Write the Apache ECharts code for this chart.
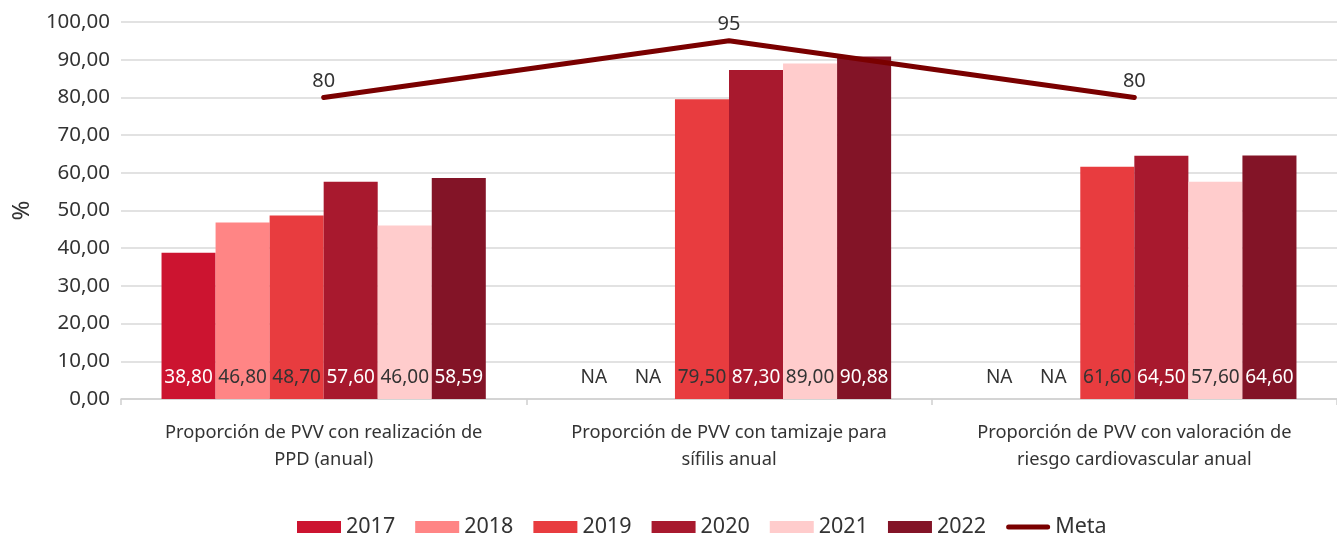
<!DOCTYPE html>
<html>
<head>
<meta charset="utf-8">
<script src="https://cdn.jsdelivr.net/npm/echarts@6/dist/echarts.min.js"></script>
<style>
  html, body { margin: 0; padding: 0; background: #fff; }
  #chart { width: 1337px; height: 535px; }
</style>
</head>
<body>
<div id="chart"></div>
<script>
// Indicadores de atención a PVV, 2017–2022, con la meta por indicador
const categories = [
  'Proporción de PVV con realización de\nPPD (anual)',
  'Proporción de PVV con tamizaje para\nsífilis anual',
  'Proporción de PVV con valoración de\nriesgo cardiovascular anual'
];
const years = ['2017', '2018', '2019', '2020', '2021', '2022'];
// null = dato no disponible (NA)
const v2017 = [38.80, null, null];
const v2018 = [46.80, null, null];
const v2019 = [48.70, 79.50, 61.60];
const v2020 = [57.60, 87.30, 64.50];
const v2021 = [46.00, 89.00, 57.60];
const v2022 = [58.59, 90.88, 64.60];
const meta = [80, 95, 80];
const yTicks = [0, 10, 20, 30, 40, 50, 60, 70, 80, 90, 100];

const yearValues = [v2017, v2018, v2019, v2020, v2021, v2022];
const barColors = ['#CC1430', '#FF8585', '#E83C3F', '#A8192E', '#FFCCCC', '#831427'];
const labelColors = ['#ffffff', '#333333', '#333333', '#ffffff', '#333333', '#ffffff'];
const META_COLOR = '#7A0000';
const FONT = 'Noto Sans';

const fmt = v => v.toFixed(2).replace('.', ',');

const barSeries = years.map((y, i) => ({
  name: y,
  type: 'bar',
  barGap: '0%',
  barCategoryGap: '20%',
  itemStyle: { color: barColors[i] },
  label: {
    show: true,
    position: 'insideBottom',
    distance: 12,
    fontFamily: FONT,
    fontSize: 19,
    color: labelColors[i],
    formatter: p => fmt(p.value)
  },
  data: yearValues[i].map(v => v === null
    ? { value: 0, label: { formatter: 'NA', color: '#333333' } }
    : v)
}));

// legend icon for the target line: thick bar with rounded ends
const lineIcon = 'path://M2.5,0 L41.5,0 A2.5,2.5 0 0 1 41.5,5 L2.5,5 A2.5,2.5 0 0 1 2.5,0 Z';

const chart = echarts.init(document.getElementById('chart'));
chart.setOption({
  animation: false,
  textStyle: { fontFamily: FONT },
  grid: {
    left: 121, right: 0, top: 22, bottom: 136,
    containLabel: false,
    outerBoundsMode: 'none'
  },
  legend: {
    top: 511,
    left: 292,
    itemWidth: 44,
    itemHeight: 12,
    itemGap: 20,
    textStyle: { fontFamily: FONT, fontSize: 21.5, color: '#333' },
    data: years.map(y => ({ name: y, icon: 'rect' })).concat([{
      name: 'Meta',
      icon: lineIcon,
      itemStyle: { color: META_COLOR }
    }])
  },
  xAxis: {
    type: 'category',
    data: categories,
    axisLine: { lineStyle: { color: '#d0d0d0', width: 1.5 } },
    axisTick: { show: true, length: 6, lineStyle: { color: '#d0d0d0', width: 1.5 } },
    axisLabel: {
      interval: 0,
      fontFamily: FONT, fontSize: 18.3, color: '#333', lineHeight: 27, margin: 20
    }
  },
  yAxis: {
    type: 'value',
    min: yTicks[0],
    max: yTicks[yTicks.length - 1],
    interval: yTicks[1] - yTicks[0],
    name: '%',
    nameLocation: 'middle',
    nameGap: 87,
    nameRotate: 90,
    nameTextStyle: { fontFamily: FONT, fontSize: 24, color: '#333' },
    axisLabel: {
      fontFamily: FONT, fontSize: 20.5, color: '#333', margin: 11,
      formatter: v => fmt(v)
    },
    splitLine: { lineStyle: { color: '#d9d9d9', width: 1.5 } },
    axisLine: { show: false },
    axisTick: { show: false }
  },
  series: barSeries.concat([{
    name: 'Meta',
    type: 'line',
    data: meta,
    z: 5,
    symbol: 'circle',
    symbolSize: 1,
    itemStyle: { color: META_COLOR },
    lineStyle: { color: META_COLOR, width: 5, cap: 'round' },
    label: {
      show: true,
      position: 'top',
      distance: 6,
      fontFamily: FONT,
      fontSize: 20,
      color: '#333'
    }
  }])
});
</script>
</body>
</html>
